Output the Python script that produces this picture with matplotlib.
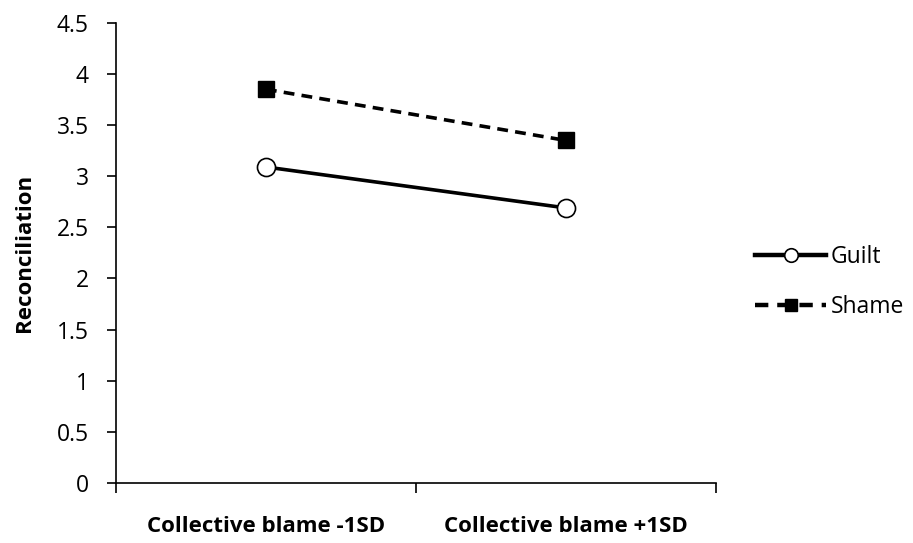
import matplotlib.pyplot as plt
from matplotlib.ticker import FixedLocator, NullFormatter

plt.rcParams['font.family'] = ['Open Sans', 'DejaVu Sans']

# data
categories = ['Collective blame -1SD', 'Collective blame +1SD']
guilt = [3.09, 2.69]
shame = [3.85, 3.35]
yticks = [0, 0.5, 1, 1.5, 2, 2.5, 3, 3.5, 4, 4.5]

fig = plt.figure(figsize=(9.13, 5.43), dpi=100)
ax = fig.add_axes([0.127, 0.1105, 0.657, 0.8475])

x = list(range(len(categories)))
ax.plot(x, guilt, color='black', lw=2.6, marker='o', ms=13,
        mfc='white', mec='black', mew=1.2, label='Guilt')
ax.plot(x, shame, color='black', lw=2.6, ls=(0, (3, 2)), marker='s', ms=12,
        mfc='black', mec='black', label='Shame')

ax.set_xlim(-0.5, len(categories) - 0.5)
ax.set_ylim(0, 4.5)
ax.set_yticks(yticks)
ax.set_yticklabels([f'{v:g}' for v in yticks], fontsize=16.5)

# boundary ticks between categories, labels centred on categories
ax.xaxis.set_major_locator(FixedLocator([-0.5, 0.5, 1.5]))
ax.xaxis.set_major_formatter(NullFormatter())
ax.xaxis.set_minor_locator(FixedLocator(x))
ax.set_xticklabels(categories, minor=True, fontsize=16, fontweight='bold')
ax.tick_params(axis='x', which='minor', length=0, pad=24)
ax.tick_params(axis='x', which='major', length=7, width=1.2, direction='out')
ax.tick_params(axis='y', length=6.5, width=1.2, direction='out', pad=13)

for s in ['top', 'right']:
    ax.spines[s].set_visible(False)
for s in ['left', 'bottom']:
    ax.spines[s].set_linewidth(1.2)

ax.set_ylabel('Reconciliation', fontsize=16, fontweight='bold', labelpad=16)

leg = ax.legend(loc='center left', bbox_to_anchor=(755 / 913, 1 - 282 / 543),
                bbox_transform=fig.transFigure, frameon=False, fontsize=16.5,
                handlelength=3.1, handletextpad=0.2, labelspacing=1.15,
                borderaxespad=0, borderpad=0, markerscale=0.75)
for h in leg.get_lines():
    h.set_linewidth(3.2)

fig.savefig('out.png', dpi=100)
